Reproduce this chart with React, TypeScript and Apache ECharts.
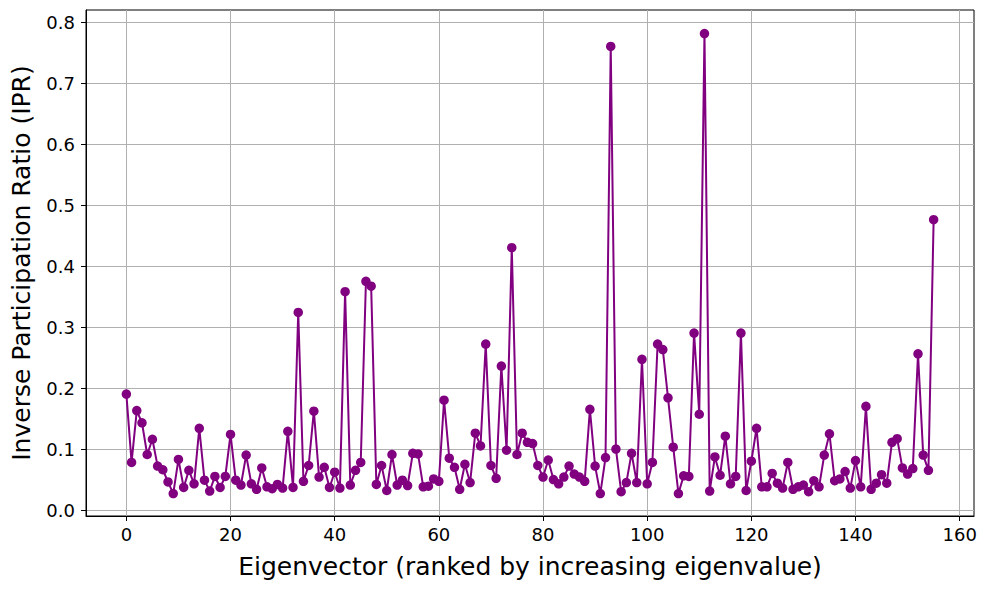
import React, { useEffect, useRef } from "react";
import * as echarts from "echarts";

const iprValues: number[] = [
  0.190, 0.078, 0.163, 0.143, 0.091, 0.116, 0.072, 0.066, 0.046, 0.027,
  0.083, 0.037, 0.065, 0.043, 0.134, 0.049, 0.031, 0.055, 0.037, 0.055,
  0.124, 0.049, 0.041, 0.090, 0.043, 0.034, 0.069, 0.038, 0.035, 0.042,
  0.036, 0.129, 0.037, 0.324, 0.047, 0.073, 0.162, 0.054, 0.070, 0.037,
  0.062, 0.036, 0.358, 0.041, 0.065, 0.078, 0.375, 0.367, 0.042, 0.073,
  0.032, 0.091, 0.041, 0.049, 0.040, 0.093, 0.092, 0.038, 0.039, 0.051,
  0.047, 0.180, 0.085, 0.070, 0.034, 0.075, 0.045, 0.126, 0.105, 0.272,
  0.073, 0.052, 0.236, 0.098, 0.430, 0.091, 0.126, 0.111, 0.109, 0.073,
  0.054, 0.082, 0.050, 0.043, 0.054, 0.072, 0.059, 0.054, 0.047, 0.165,
  0.072, 0.027, 0.086, 0.760, 0.100, 0.030, 0.045, 0.093, 0.045, 0.247,
  0.043, 0.078, 0.272, 0.263, 0.184, 0.103, 0.027, 0.056, 0.055, 0.290,
  0.157, 0.781, 0.031, 0.087, 0.057, 0.121, 0.043, 0.055, 0.290, 0.032,
  0.080, 0.134, 0.038, 0.038, 0.060, 0.044, 0.036, 0.078, 0.034, 0.038,
  0.041, 0.030, 0.048, 0.038, 0.090, 0.125, 0.048, 0.051, 0.063, 0.036,
  0.081, 0.038, 0.170, 0.034, 0.044, 0.058, 0.044, 0.111, 0.117, 0.069,
  0.059, 0.068, 0.256, 0.090, 0.065, 0.476,
];

const xTicks: number[] = [0, 20, 40, 60, 80, 100, 120, 140, 160];
const yTicks: number[] = [0, 0.1, 0.2, 0.3, 0.4, 0.5, 0.6, 0.7, 0.8];

const xLabel = "Eigenvector (ranked by increasing eigenvalue)";
const yLabel = "Inverse Participation Ratio (IPR)";

export default function App() {
  const ref = useRef<HTMLDivElement>(null);

  useEffect(() => {
    if (!ref.current) return;
    const chart = echarts.init(ref.current, null, { renderer: "svg" });
    const font = "DejaVu Sans";
    const data = iprValues.map((v, i) => [i, v]);
    chart.setOption({
      animation: false,
      backgroundColor: "#ffffff",
      grid: {
        left: 86,
        right: 14,
        top: 10,
        bottom: 74,
        show: true,
        borderColor: "#000000",
        borderWidth: 1,
      },
      xAxis: {
        type: "value",
        min: -7.75,
        max: 162.75,
        name: xLabel,
        nameLocation: "middle",
        nameGap: 38,
        nameTextStyle: { fontFamily: font, fontSize: 25, color: "#000" },
        axisLine: { show: true, onZero: false, lineStyle: { color: "#000", width: 1 } },
        axisTick: {
          show: true,
          inside: false,
          length: 5,
          customValues: xTicks,
          lineStyle: { color: "#000", width: 1 },
        },
        axisLabel: {
          customValues: xTicks,
          margin: 9,
          fontFamily: font,
          fontSize: 18,
          color: "#000",
          formatter: (v: number) => String(v),
        },
        splitLine: { show: true, lineStyle: { color: "#b0b0b0", width: 1 } },
      },
      yAxis: {
        type: "value",
        min: -0.0098,
        max: 0.8197,
        name: yLabel,
        nameLocation: "middle",
        nameGap: 52,
        nameTextStyle: { fontFamily: font, fontSize: 25, color: "#000" },
        axisLine: { show: true, onZero: false, lineStyle: { color: "#000", width: 1 } },
        axisTick: {
          show: true,
          inside: false,
          length: 5,
          customValues: yTicks,
          lineStyle: { color: "#000", width: 1 },
        },
        axisLabel: {
          customValues: yTicks,
          margin: 11,
          fontFamily: font,
          fontSize: 18,
          color: "#000",
          formatter: (v: number) => v.toFixed(1),
        },
        splitLine: { show: true, lineStyle: { color: "#b0b0b0", width: 1 } },
      },
      series: [
        {
          type: "line",
          data,
          symbol: "circle",
          symbolSize: 9.5,
          showSymbol: true,
          itemStyle: { color: "#800080" },
          lineStyle: { color: "#800080", width: 2 },
          z: 3,
        },
      ],
    });
    return () => chart.dispose();
  }, []);

  return (
    <div
      ref={ref}
      style={{ position: "fixed", left: 0, top: 0, width: 988, height: 590 }}
    />
  );
}
